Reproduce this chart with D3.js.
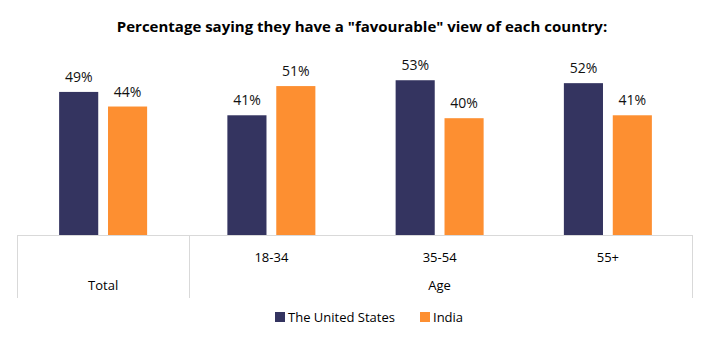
<!DOCTYPE html>
<html>
  <head>
    <meta charset="utf-8"/>
    <style>
    body {
      font-family: "Open Sans", "Liberation Sans", sans-serif;
      margin: 0;
      background: #fff;
    }
    </style>
  </head>
  <body>
    <script src="https://d3js.org/d3.v7.min.js"></script>
    <script>
    var width = 717, height = 349;

    var categories = ["Total", "18-34", "35-54", "55+"];
    var groupLabels = [{name: "Total", from: 0, to: 1}, {name: "Age", from: 1, to: 4}];
    var seriesNames = ["The United States", "India"];
    var usValues = [49, 41, 53, 52];
    var indiaValues = [44, 51, 40, 41];
    var colors = ["#343460", "#fd8f31"];

    var baseline = 235;

    var svg = d3.select("body").append("svg")
        .attr("width", width)
        .attr("height", height);

    // title
    svg.append("text")
        .attr("x", 362)
        .attr("y", 32)
        .attr("text-anchor", "middle")
        .style("font-weight", "bold")
        .style("font-size", "15px")
        .text("Percentage saying they have a \"favourable\" view of each country:");

    var x = d3.scaleBand()
        .domain(categories)
        .range([19, 692]);

    var xInner = d3.scaleBand()
        .domain(seriesNames)
        .range([x.bandwidth() / 2 - 44, x.bandwidth() / 2 + 44])
        .paddingInner(0.2);

    var y = d3.scaleLinear()
        .domain([0, 100])
        .range([baseline, baseline - 292]);

    var rows = categories.map(function(c, i){
      return {cat: c, values: [usValues[i], indiaValues[i]]};
    });

    var groups = svg.selectAll(".grp")
        .data(rows)
      .enter().append("g")
        .attr("class", "grp")
        .attr("transform", function(d){ return "translate(" + x(d.cat) + ",0)"; });

    groups.selectAll("rect")
        .data(function(d){ return d.values.map(function(v, j){ return {name: seriesNames[j], v: v, j: j}; }); })
      .enter().append("rect")
        .attr("x", function(d){ return xInner(d.name); })
        .attr("y", function(d){ return y(d.v); })
        .attr("width", xInner.bandwidth())
        .attr("height", function(d){ return baseline - y(d.v); })
        .attr("fill", function(d){ return colors[d.j]; });

    groups.selectAll(".val")
        .data(function(d){ return d.values.map(function(v, j){ return {name: seriesNames[j], v: v}; }); })
      .enter().append("text")
        .attr("class", "val")
        .attr("x", function(d){ return xInner(d.name) + xInner.bandwidth() / 2; })
        .attr("y", function(d){ return y(d.v) - 10; })
        .attr("text-anchor", "middle")
        .style("font-size", "14px")
        .style("fill", "#111")
        .text(function(d){ return d.v + "%"; });

    // category axis drawn as a small table
    var axis = svg.append("g").attr("stroke", "#d9d9d9").attr("stroke-width", 1);
    axis.append("line")
        .attr("x1", 17).attr("x2", 692)
        .attr("y1", baseline + 0.5).attr("y2", baseline + 0.5);

    var sepX = [17, x(categories[1]) + 2, 692];
    axis.selectAll(".sep")
        .data(sepX)
      .enter().append("line")
        .attr("x1", function(d){ return Math.round(d) + 0.5; })
        .attr("x2", function(d){ return Math.round(d) + 0.5; })
        .attr("y1", baseline)
        .attr("y2", 298);

    svg.selectAll(".cat")
        .data(categories.slice(1))
      .enter().append("text")
        .attr("class", "cat")
        .attr("x", function(d){ return x(d) + x.bandwidth() / 2; })
        .attr("y", 262)
        .attr("text-anchor", "middle")
        .style("font-size", "13px")
        .text(function(d){ return d; });

    svg.selectAll(".glab")
        .data(groupLabels)
      .enter().append("text")
        .attr("class", "glab")
        .attr("x", function(d){
          var a = x(categories[d.from]);
          var b = d.to < 4 ? x(categories[d.to]) : x.range()[1];
          return (a + b) / 2;
        })
        .attr("y", 290)
        .attr("text-anchor", "middle")
        .style("font-size", "13px")
        .text(function(d){ return d.name; });

    // legend
    var legend = svg.append("g").attr("transform", "translate(275,312)");
    var legX = [0, 145];
    seriesNames.forEach(function(s, j){
      legend.append("rect")
          .attr("x", legX[j]).attr("y", 0)
          .attr("width", 10).attr("height", 10)
          .attr("fill", colors[j]);
      legend.append("text")
          .attr("x", legX[j] + 13).attr("y", 10)
          .style("font-size", "13px")
          .text(s);
    });
    </script>
  </body>
</html>
